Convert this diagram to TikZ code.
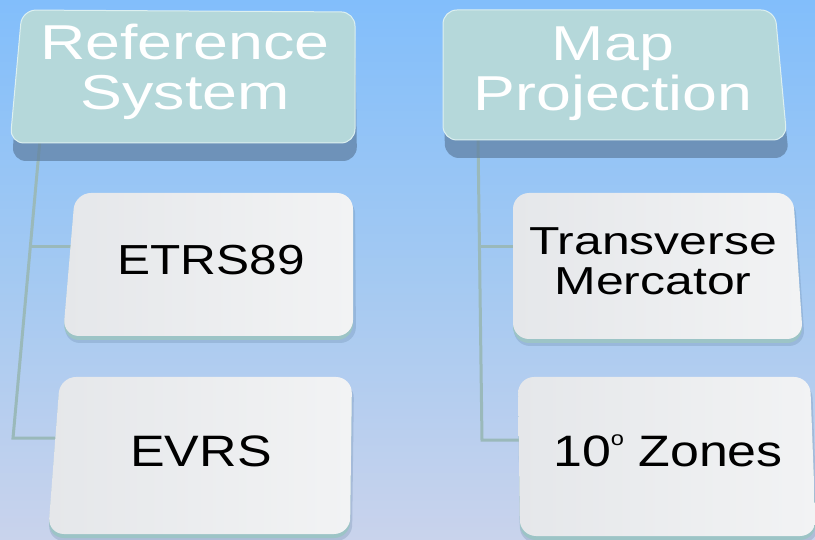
\documentclass[tikz,border=0pt]{standalone}
\usepackage{fontspec}
\newfontfamily\headfont[FakeStretch=1.28]{Liberation Sans}
\newfontfamily\childfont[FakeStretch=1.18]{Liberation Sans}
\newfontfamily\tmfont[FakeStretch=1.28]{Liberation Sans}
\pgfdeclarelayer{bg}
\pgfdeclarelayer{lines}
\pgfsetlayers{bg,lines,main}
\definecolor{bgtop}{HTML}{82BEFB}
\definecolor{bgmid}{HTML}{A3C9F2}
\definecolor{bgbot}{HTML}{C9D3EC}
\definecolor{headfill}{HTML}{B5D8DA}
\definecolor{headrim}{HTML}{DDF0F0}
\definecolor{shadowc}{HTML}{5E7EA0}
\definecolor{childL}{HTML}{E5E7EA}
\definecolor{childR}{HTML}{F2F3F4}
\definecolor{edgec}{HTML}{9CC4C6}
\definecolor{connc}{HTML}{9AB9BA}
\begin{document}
\begin{tikzpicture}[x=1pt,y=-1pt,
  headbox/.style={fill=headfill, draw=headrim, line width=1pt, rounded corners=14pt},
  headshadow/.style={fill=shadowc, opacity=0.7, rounded corners=14pt},
  childbox/.style={left color=childL, right color=childR, rounded corners=16pt},
  childedge/.style={fill=edgec, rounded corners=16pt},
  childshadow/.style={fill=shadowc, opacity=0.25, rounded corners=16pt},
  conn/.style={draw=connc, line width=3pt},
  headtext/.style={text=white, font=\headfont\fontsize{49}{50}\selectfont, align=center, inner sep=0pt},
  childtext/.style={text=black, inner sep=0pt, anchor=base}]
\useasboundingbox (0,0) rectangle (815,540);
\begin{pgfonlayer}{bg}
  \shade[top color=bgtop, bottom color=bgbot, middle color=bgmid] (0,0) rectangle (815,540);
\end{pgfonlayer}

% header boxes
\fill[headshadow] (22,22) -- (355,24) -- (357,161) -- (12,161) -- cycle;
\draw[headbox] (22,10) -- (355,12) -- (355,143) -- (10,143) -- cycle;
\node[headtext] (rs) at (185,72) {Reference\\System};

\fill[headshadow] (443,22) -- (775,22) -- (789,158) -- (445,158) -- cycle;
\draw[headbox] (443,10) -- (775,10) -- (787,140) -- (443,140) -- cycle;
\node[headtext] (mp) at (613,74) {Map\\Projection};

% child boxes
\fill[childshadow] (75,198) -- (355,198) -- (356,343) -- (64,343) -- cycle;
\fill[childedge] (75,196) -- (353,196) -- (353,340) -- (63,340) -- cycle;
\shade[childbox] (75,193) -- (353,193) -- (353,336) -- (63,336) -- cycle;
\node[childtext, font=\childfont\fontsize{42}{44}\selectfont] (etrs) at (211,275) {ETRS89};

\fill[childshadow] (60,382) -- (354,382) -- (352,541) -- (48,541) -- cycle;
\fill[childedge] (60,380) -- (352,380) -- (350,538) -- (48,538) -- cycle;
\shade[childbox] (60,377) -- (352,377) -- (350,534) -- (48,534) -- cycle;
\node[childtext, font=\childfont\fontsize{44}{46}\selectfont] (evrs) at (201,467) {EVRS};

\fill[childshadow] (513,198) -- (795,198) -- (805,346) -- (514,346) -- cycle;
\fill[childedge] (513,196) -- (793,196) -- (803,343) -- (513,343) -- cycle;
\shade[childbox] (513,193) -- (793,193) -- (803,339) -- (513,339) -- cycle;
\node[inner sep=0pt, align=center, font=\tmfont\fontsize{39}{40}\selectfont] (tm) at (653,261) {Transverse\\Mercator};

\fill[childshadow] (518,382) -- (812,382) -- (818,543) -- (520,543) -- cycle;
\fill[childedge] (518,380) -- (810,380) -- (816,540) -- (520,540) -- cycle;
\shade[childbox] (518,377) -- (810,377) -- (816,536) -- (520,536) -- cycle;
\node[childtext, font=\childfont\fontsize{44}{46}\selectfont] (zones) at (668,467) {10\raisebox{21pt}{\fontsize{20}{20}\selectfont o} Zones};

% connectors
\coordinate (rsroot) at (40,140);
\coordinate (rsbend) at (13,438);
\coordinate (rsj) at (30.6,247);
\coordinate (mproot) at (478,138);
\coordinate (mpbend) at (482,440);
\coordinate (mpj) at (479.4,247);
\begin{pgfonlayer}{lines}
  \draw[conn] (rsroot) -- (rsbend) -- (evrs.west |- rsbend);
  \draw[conn] (rsj) -- (etrs.west |- rsj);
  \draw[conn] (mproot) -- (mpbend) -- (zones.west |- mpbend);
  \draw[conn] (mpj) -- (tm.west |- mpj);
\end{pgfonlayer}
\end{tikzpicture}
\end{document}
